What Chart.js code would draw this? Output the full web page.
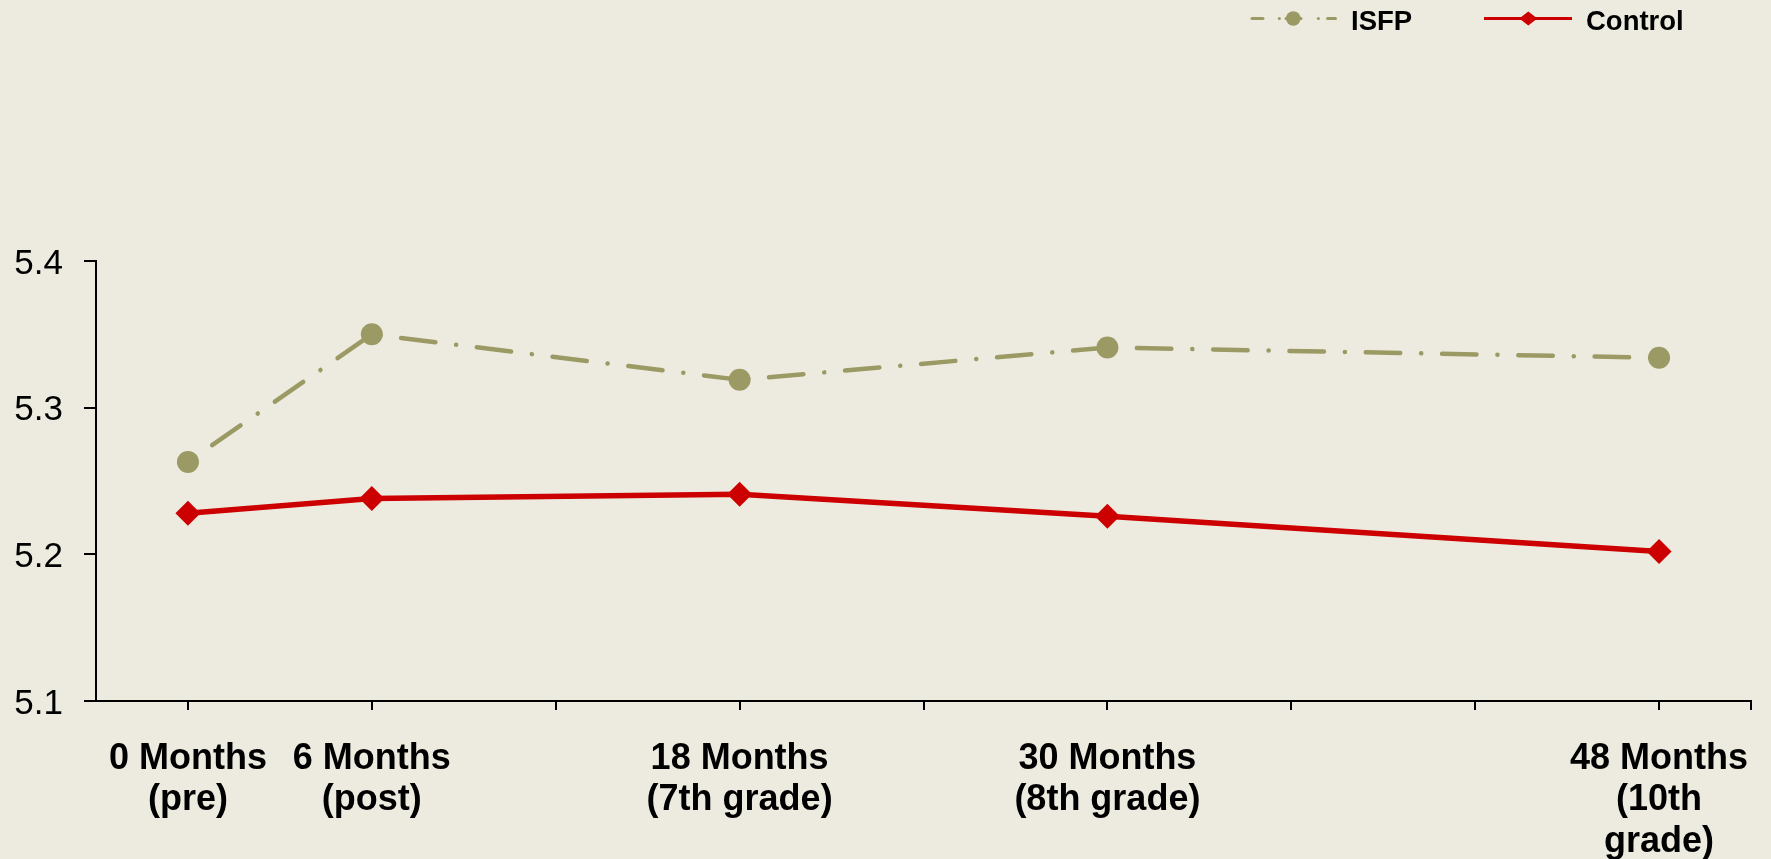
<!DOCTYPE html>
<html><head><meta charset="utf-8">
<script src="https://cdn.jsdelivr.net/npm/chart.js@4.4.1/dist/chart.umd.min.js"></script>
<style>html,body{margin:0;padding:0;background:#EDEBE0;overflow:hidden}canvas{display:block}</style>
</head><body><canvas id="c" width="1771" height="859"></canvas>
<script>
const seriesNames = ['ISFP', 'Control'];
const months = [0, 6, 18, 30, 48];
const isfpValues = [5.263, 5.350, 5.319, 5.341, 5.334];
const controlValues = [5.228, 5.238, 5.241, 5.226, 5.202];
const xTickMonths = [0, 6, 12, 18, 24, 30, 36, 42, 48, 51];
const xTickLabels = [['0 Months', '(pre)'], ['6 Months', '(post)'], '', ['18 Months', '(7th grade)'], '', ['30 Months', '(8th grade)'], '', '', ['48 Months', '(10th', 'grade)'], ''];
const yTicks = [5.1, 5.2, 5.3, 5.4];

const BG = '#EDEBE0';
const ISFP_COLOR = '#9C9A64';
const CONTROL_COLOR = '#CC0000';
const FONT = 'Liberation Sans, Arial, sans-serif';

const bgPlugin = {
  id: 'bg',
  beforeDraw(chart) {
    const ctx = chart.ctx;
    ctx.save();
    ctx.fillStyle = BG;
    ctx.fillRect(0, 0, chart.width, chart.height);
    ctx.restore();
  }
};

const legendPlugin = {
  id: 'customLegend',
  afterDraw(chart) {
    const ctx = chart.ctx;
    const ds = chart.data.datasets;
    const y = 18.5;
    ctx.save();
    // ISFP entry
    ctx.strokeStyle = ds[0].borderColor;
    ctx.fillStyle = ds[0].borderColor;
    ctx.lineWidth = 3;
    ctx.lineCap = 'round';
    const pieces = [[1252, 1263], [1279.3, 1279.4], [1318.3, 1318.4], [1327.5, 1335.5]];
    pieces.forEach(p => { ctx.beginPath(); ctx.moveTo(p[0], y); ctx.lineTo(p[1], y); ctx.stroke(); });
    ctx.beginPath(); ctx.moveTo(1286, y); ctx.lineTo(1301, y); ctx.stroke();
    ctx.beginPath(); ctx.arc(1293.3, y, 7.3, 0, Math.PI * 2); ctx.fill();
    // Control entry
    ctx.strokeStyle = ds[1].borderColor;
    ctx.fillStyle = ds[1].borderColor;
    ctx.lineCap = 'butt';
    ctx.beginPath(); ctx.moveTo(1484, y); ctx.lineTo(1572, y); ctx.stroke();
    ctx.beginPath();
    ctx.moveTo(1528.3 - 9, y); ctx.lineTo(1528.3, y - 7); ctx.lineTo(1528.3 + 9, y); ctx.lineTo(1528.3, y + 7);
    ctx.closePath(); ctx.fill();
    // Texts
    ctx.fillStyle = '#000';
    ctx.font = 'bold 27.5px ' + FONT;
    ctx.textBaseline = 'alphabetic';
    ctx.textAlign = 'left';
    ctx.fillText(ds[0].label, 1351, 29.5);
    ctx.fillText(ds[1].label, 1586, 29.5);
    ctx.restore();
  }
};

new Chart(document.getElementById('c'), {
  type: 'line',
  data: {
    datasets: [
      {
        label: seriesNames[0],
        data: months.map((m, i) => ({ x: m, y: isfpValues[i] })),
        borderColor: ISFP_COLOR,
        backgroundColor: ISFP_COLOR,
        borderWidth: 4.5,
        borderDash: [34.5, 20.9, 0.1, 20.8],
        borderDashOffset: 46.8,
        borderCapStyle: 'round',
        pointStyle: 'circle',
        pointRadius: 11,
        pointHoverRadius: 11,
        pointBorderWidth: 0,
        tension: 0,
        clip: false,
        segment: { borderDashOffset: c => 46.8 + c.p0DataIndex * 0.001 }
      },
      {
        label: seriesNames[1],
        data: months.map((m, i) => ({ x: m, y: controlValues[i] })),
        borderColor: CONTROL_COLOR,
        backgroundColor: CONTROL_COLOR,
        borderWidth: 5.5,
        pointStyle: 'rectRot',
        pointRadius: 12.5,
        pointHoverRadius: 12.5,
        pointBorderWidth: 0,
        tension: 0,
        clip: false
      }
    ]
  },
  options: {
    responsive: false,
    animation: false,
    devicePixelRatio: 1,
    layout: { padding: { top: 261, left: 14, right: 20, bottom: 0 } },
    plugins: { legend: { display: false }, tooltip: { enabled: false } },
    scales: {
      x: {
        type: 'linear',
        min: -3,
        max: 51,
        afterBuildTicks: axis => { axis.ticks = xTickMonths.map(v => ({ value: v })); },
        afterFit: axis => { axis.height = 158; axis.paddingLeft = 0; axis.paddingRight = 0; },
        ticks: {
          autoSkip: false,
          maxRotation: 0,
          minRotation: 0,
          color: '#000',
          padding: 29,
          font: { family: FONT, size: 36, weight: 'bold', lineHeight: 1.14 },
          callback: (v, i) => xTickLabels[i]
        },
        grid: { drawOnChartArea: false, drawTicks: true, tickLength: 9, color: '#000', lineWidth: 2 },
        border: { color: '#000', width: 2 }
      },
      y: {
        type: 'linear',
        min: 5.1,
        max: 5.4,
        afterBuildTicks: axis => { axis.ticks = yTicks.map(v => ({ value: v })); },
        afterFit: axis => { axis.width = 82; axis.paddingTop = 0; axis.paddingBottom = 0; },
        ticks: {
          color: '#000',
          padding: 21,
          labelOffset: 3,
          font: { family: FONT, size: 35 },
          callback: v => Number(v).toFixed(1)
        },
        grid: { drawOnChartArea: false, drawTicks: true, tickLength: 12, color: '#000', lineWidth: 2 },
        border: { color: '#000', width: 2 }
      }
    }
  },
  plugins: [bgPlugin, legendPlugin]
});
</script>
</body></html>
